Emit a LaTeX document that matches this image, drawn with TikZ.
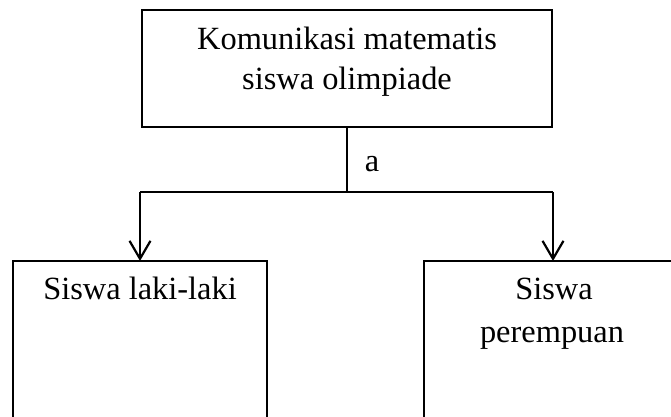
\documentclass[tikz,border=0pt]{standalone}
\usepackage{fontspec}
\setmainfont{Liberation Serif}
\usetikzlibrary{arrows.meta}
\begin{document}
\begin{tikzpicture}[x=0.5pt,y=-0.5pt,
  box/.style={draw, line width=0.6pt, inner sep=0pt, outer sep=0pt},
  lbl/.style={font=\fontsize{16.2}{20}\selectfont, inner sep=0pt, anchor=base},
  thin/.style={line width=0.55pt},
  arr/.style={line width=1.1pt, -{Straight Barb[length=9pt,width=10.5pt]}}]
\useasboundingbox (0,0) rectangle (671,417);
\clip (0,0) rectangle (671,417);
% boxes
\node[box, minimum width=205pt, minimum height=58.5pt] (top) at (347,68.5) {};
\node[box, minimum width=127pt, minimum height=100pt] (left) at (140,361) {};
\node[box, minimum width=129pt, minimum height=100pt] (right) at (553,361) {};
% texts
\node[lbl] (t1) at (347,50) {Komunikasi matematis};
\node[lbl] (t2) at (347,90) {siswa olimpiade};
\node[lbl] (a) at (372,172) {a};
\node[lbl] (l1) at (140,300) {Siswa laki-laki};
\node[lbl] (r1) at (554,300) {Siswa};
\node[lbl] (r2) at (552,343) {perempuan};
% connectors
\coordinate (j) at (top.south |- 0,192);
\coordinate (jl) at (left.north |- j);
\coordinate (jr) at (right.north |- j);
\draw[thin] (top.south) -- (j);
\draw[thin] (jl) -- (jr);
\draw[arr] (jl) -- (left.north);
\draw[arr] (jr) -- (right.north);
\end{tikzpicture}
\end{document}
